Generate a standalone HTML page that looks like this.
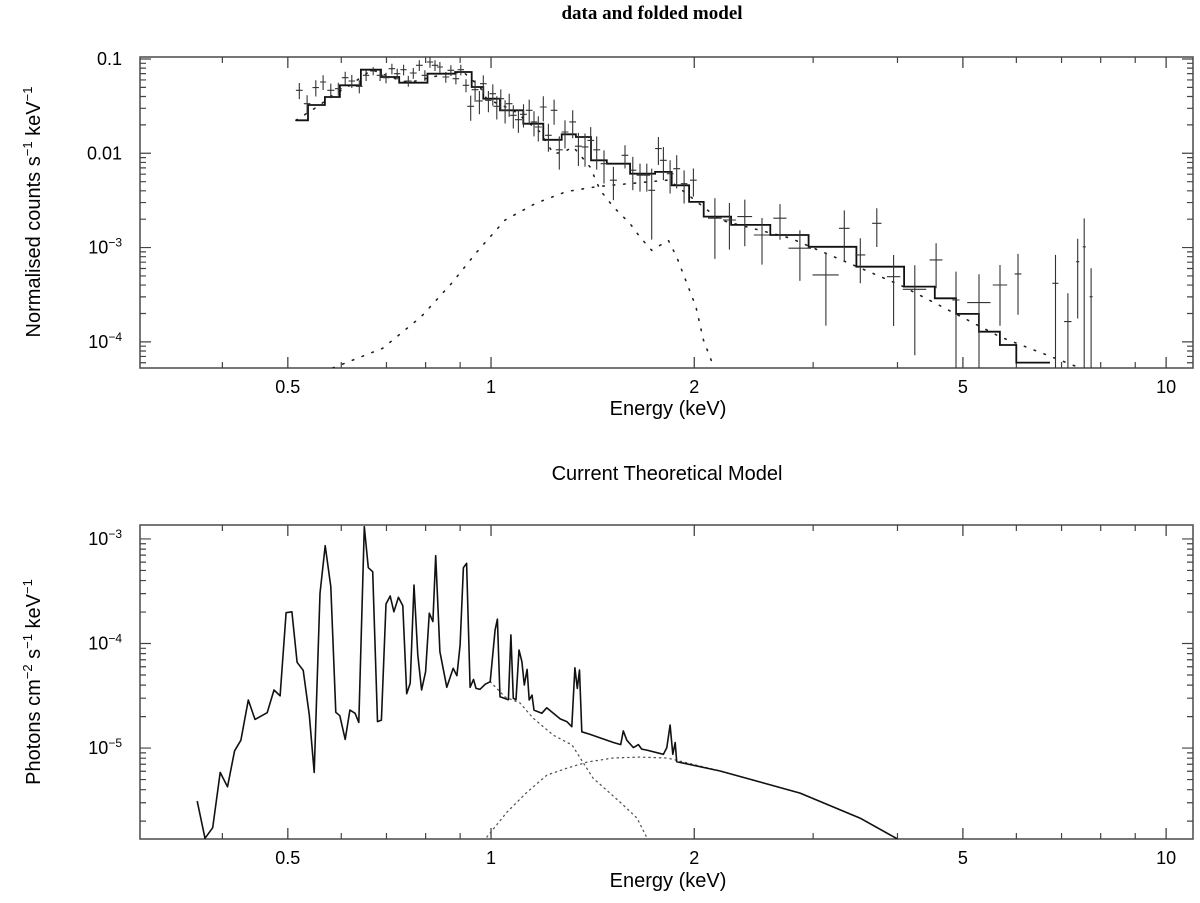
<!DOCTYPE html>
<html><head><meta charset="utf-8"><style>
html,body{margin:0;padding:0;background:#fff;}
svg{display:block;font-family:"Liberation Sans",Arial,sans-serif;}
</style></head><body>
<svg id="chart" width="1200" height="903" viewBox="0 0 1200 903" xmlns="http://www.w3.org/2000/svg">
<rect x="0" y="0" width="1200" height="903" fill="#fff"/>
<text x="652" y="19" text-anchor="middle" font-family="Liberation Serif, serif" font-weight="bold" font-size="19">data and folded model</text>
<text x="668" y="415" text-anchor="middle" font-size="20">Energy (keV)</text>
<text x="667" y="480" text-anchor="middle" font-size="20">Current Theoretical Model</text>
<text x="668" y="887" text-anchor="middle" font-size="20">Energy (keV)</text>
<text transform="translate(40,212) rotate(-90)" text-anchor="middle" font-size="20">Normalised counts s<tspan font-size="13" dy="-8">−1</tspan><tspan dy="8"> keV</tspan><tspan font-size="13" dy="-8">−1</tspan></text>
<text transform="translate(40,682) rotate(-90)" text-anchor="middle" font-size="20">Photons cm<tspan font-size="13" dy="-8">−2</tspan><tspan dy="8"> s</tspan><tspan font-size="13" dy="-8">−1</tspan><tspan dy="8"> keV</tspan><tspan font-size="13" dy="-8">−1</tspan></text>
<g id="top"></g>
<g id="bot"></g>
</svg>
<script>
// ---------- shared x axis ----------
const xDomain = [0.302, 10.96];
const xMajorTicks = [0.5, 1, 2, 5, 10];
const xMajorLabels = ["0.5", "1", "2", "5", "10"];
const xMinorTicks = [0.4, 0.6, 0.7, 0.8, 0.9, 3, 4, 6, 7, 8, 9];

// ---------- top panel data ----------
const topYDomain = [5.28e-5, 0.105];
const topYTicks = [0.1, 0.01, 1e-3, 1e-4];
const topYLabels = ["0.1", "0.01", "10|−3", "10|−4"];
const dataE = [0.520,0.534,0.550,0.564,0.579,0.594,0.608,0.622,0.638,0.653,0.669,0.685,0.699,0.713,0.726,0.742,0.754,0.767,0.783,0.798,0.812,0.826,0.840,0.857,0.872,0.887,0.902,0.918,0.933,0.947,0.961,0.974,0.991,1.006,1.020,1.034,1.049,1.064,1.079,1.098,1.117,1.139,1.158,1.175,1.195,1.216,1.240,1.262,1.287,1.321,1.347,1.378,1.405,1.434,1.470,1.518,1.579,1.622,1.662,1.701,1.730,1.770,1.800,1.842,1.884,1.932,1.994,2.146,2.255,2.376,2.520,2.679,2.868,3.133,3.337,3.524,3.728,3.948,4.243,4.563,4.883,5.283,5.675,6.034,6.856,7.152,7.396,7.563,7.742];
const dataV = [0.0466,0.0336,0.0497,0.0570,0.0466,0.0484,0.0634,0.0585,0.0513,0.0671,0.0746,0.0671,0.0634,0.0789,0.0698,0.0770,0.0585,0.0711,0.0857,0.0671,0.0929,0.0857,0.0823,0.0644,0.0759,0.0618,0.0770,0.0526,0.0315,0.0472,0.0359,0.0547,0.0365,0.0429,0.0315,0.0379,0.0286,0.0336,0.0253,0.0227,0.0259,0.0286,0.0215,0.0190,0.0310,0.0155,0.0286,0.0109,0.0168,0.0215,0.0119,0.0117,0.0137,0.0109,0.00776,0.00518,0.00953,0.00661,0.00585,0.00585,0.00405,0.0112,0.00843,0.00608,0.00687,0.00476,0.00518,0.00205,0.00196,0.00213,0.00136,0.00205,9.84e-4,5.13e-4,0.0016,8.35e-4,0.00181,4.91e-4,3.61e-4,7.40e-4,2.78e-4,2.61e-4,4.01e-4,5.25e-4,4.18e-4,1.64e-4,7.08e-4,0.00102,3.01e-4];
const dataRelErr = [0.195,0.225,0.195,0.178,0.178,0.158,0.158,0.158,0.158,0.13,0.10,0.13,0.13,0.13,0.13,0.13,0.13,0.13,0.13,0.13,0.13,0.13,0.13,0.13,0.13,0.13,0.13,0.158,0.298,0.255,0.276,0.225,0.255,0.255,0.276,0.255,0.276,0.276,0.276,0.276,0.276,0.298,0.298,0.298,0.298,0.33,0.298,0.384,0.33,0.33,0.384,0.384,0.384,0.384,0.384,0.384,0.276,0.384,0.33,0.33,0.70,0.33,0.384,0.384,0.384,0.384,0.33,0.63,0.515,0.515,0.515,0.41,0.55,0.71,0.55,0.50,0.44,0.70,0.80,0.50,1.0,1.0,0.63,0.63,1.0,1.0,0.75,1.0,1.0];
const dataEWidth = [0.006,0.006,0.006,0.006,0.007,0.007,0.007,0.007,0.007,0.007,0.007,0.008,0.008,0.008,0.008,0.008,0.009,0.009,0.009,0.009,0.009,0.009,0.009,0.010,0.010,0.010,0.010,0.010,0.011,0.011,0.011,0.011,0.011,0.011,0.012,0.012,0.012,0.012,0.012,0.013,0.013,0.013,0.013,0.014,0.014,0.014,0.014,0.015,0.015,0.015,0.016,0.016,0.016,0.017,0.017,0.018,0.018,0.019,0.019,0.020,0.020,0.020,0.021,0.021,0.022,0.022,0.023,0.05,0.05,0.06,0.07,0.06,0.11,0.14,0.06,0.06,0.06,0.09,0.17,0.10,0.06,0.21,0.14,0.07,0.07,0.09,0.04,0.04,0.04];
const modelE = [0.514,0.558,0.577,0.618,0.666,0.709,0.754,0.860,0.910,0.963,0.985,1.079,1.155,1.237,1.309,1.363,1.451,1.518,1.701,1.800,1.905,2.027,2.104,2.444,2.750,3.174,3.808,4.395,4.697,5.080,5.487,5.863,6.139,6.73];
const modelV = [0.0224,0.0325,0.0395,0.0526,0.0770,0.0644,0.0561,0.0698,0.0728,0.0505,0.0379,0.0286,0.0206,0.0139,0.0159,0.0149,0.00843,0.00776,0.00608,0.00634,0.00458,0.00305,0.00213,0.00174,0.00136,0.00102,6.27e-4,3.85e-4,2.90e-4,1.98e-4,1.28e-4,9.27e-5,6.02e-5,6.02e-5];
const lineCompE = [0.514,0.558,0.577,0.618,0.666,0.709,0.754,0.860,0.910,0.963,0.985,1.079,1.182,1.237,1.280,1.324,1.402,1.451,1.518,1.607,1.662,1.730,1.831,1.884,2.011,2.063,2.132];
const lineCompV = [0.0224,0.0325,0.0395,0.0526,0.0770,0.0644,0.0561,0.0698,0.0728,0.0505,0.0379,0.0286,0.0168,0.0099,0.0103,0.0117,0.00716,0.00405,0.0027,0.00179,0.00129,9.36e-4,0.00119,7.94e-4,2.36e-4,1.05e-4,5.69e-5];
const contCompE = [0.583,0.691,0.788,0.874,0.958,1.049,1.165,1.293,1.436,1.720,1.835,2.184,2.773,4.036,5.675,7.46];
const contCompV = [5.28e-5,8.55e-5,1.85e-4,4.18e-4,9.43e-4,0.00196,0.00295,0.00392,0.00443,0.0050,0.00521,0.00196,0.00126,4.01e-4,1.13e-4,5.28e-5];

// ---------- bottom panel data ----------
const botYDomain = [1.35e-6, 1.36e-3];
const botYTicks = [1e-3, 1e-4, 1e-5];
const botYLabels = ["10|−3", "10|−4", "10|−5"];
const theoE = [0.367,0.377,0.387,0.397,0.407,0.417,0.426,0.437,0.447,0.466,0.477,0.487,0.497,0.507,0.516,0.527,0.538,0.547,0.558,0.568,0.579,0.589,0.597,0.608,0.618,0.629,0.637,0.649,0.658,0.668,0.679,0.688,0.699,0.709,0.718,0.729,0.740,0.750,0.759,0.769,0.779,0.789,0.800,0.810,0.820,0.828,0.840,0.860,0.879,0.890,0.900,0.910,0.920,0.931,0.942,0.950,0.963,0.980,0.997,1.014,1.022,1.031,1.061,1.070,1.079,1.089,1.100,1.111,1.120,1.131,1.139,1.150,1.158,1.189,1.209,1.230,1.266,1.295,1.317,1.331,1.342,1.352,1.363,1.402,1.518,1.556,1.570,1.589,1.625,1.653,1.672,1.701,1.800,1.821,1.842,1.859,1.874,1.884,2.184,2.87,3.52,4.0];
const theoV = [3.11e-6,1.37e-6,1.73e-6,5.85e-6,4.26e-6,9.42e-6,1.19e-5,2.88e-5,1.88e-5,2.18e-5,3.59e-5,3.16e-5,1.97e-4,2.01e-4,6.61e-5,5.54e-5,2.07e-5,5.85e-6,3.02e-4,8.63e-4,3.50e-4,2.20e-5,2.04e-5,1.21e-5,2.31e-5,2.15e-5,1.76e-5,1.31e-3,5.31e-4,4.86e-4,1.79e-5,1.85e-5,2.39e-4,2.85e-4,2.01e-4,2.77e-4,2.30e-4,3.31e-5,4.16e-5,3.63e-4,7.76e-5,3.59e-5,5.37e-5,1.95e-4,1.62e-4,6.92e-4,8.36e-5,3.81e-5,5.79e-5,4.92e-5,9.68e-5,5.31e-4,5.85e-4,3.81e-5,4.54e-5,3.72e-5,3.65e-5,4.07e-5,4.31e-5,1.35e-4,1.71e-4,3.10e-5,2.90e-5,1.21e-4,2.99e-5,2.90e-5,8.67e-5,6.70e-5,4.01e-5,5.66e-5,2.88e-5,3.21e-5,2.31e-5,2.15e-5,2.43e-5,2.22e-5,1.90e-5,1.79e-5,1.60e-5,5.86e-5,3.72e-5,5.57e-5,1.43e-5,1.35e-5,1.13e-5,1.08e-5,1.46e-5,1.19e-5,1.01e-5,1.08e-5,9.78e-6,9.57e-6,8.71e-6,1.01e-5,1.66e-5,8.71e-6,1.13e-5,7.40e-6,6.03e-6,3.71e-6,2.14e-6,1.35e-6];
const bbE = [0.986,1.056,1.131,1.210,1.296,1.388,1.516,1.662,1.823,2.184,2.87,3.52,4.0];
const bbV = [1.41e-6,2.44e-6,3.79e-6,5.52e-6,6.44e-6,7.35e-6,8.03e-6,8.2e-6,8.03e-6,6.03e-6,3.71e-6,2.14e-6,1.35e-6];
const thermE = [0.997,1.049,1.104,1.154,1.236,1.318,1.416,1.553,1.645,1.702];
const thermV = [4.31e-5,3.08e-5,2.70e-5,1.94e-5,1.33e-5,1.07e-5,5.16e-6,3.04e-6,2.14e-6,1.38e-6];

const NS = "http://www.w3.org/2000/svg";
const X0 = 140, X1 = 1193;
function xs(e){ return X0 + (Math.log10(e)-Math.log10(xDomain[0]))/(Math.log10(xDomain[1])-Math.log10(xDomain[0]))*(X1-X0); }
function mkY(dom, top, bot){ return v => bot - (Math.log10(v)-Math.log10(dom[0]))/(Math.log10(dom[1])-Math.log10(dom[0]))*(bot-top); }
function el(parent, tag, attrs){ const e=document.createElementNS(NS,tag); for(const k in attrs) e.setAttribute(k,attrs[k]); parent.appendChild(e); return e; }

function drawAxes(g, Y0, Y1, yDom, ys, yTicks, yLabels, prefix){
  const fr = el(g,'rect',{x:X0,y:Y0,width:X1-X0,height:Y1-Y0,fill:'none',stroke:'#555','stroke-width':1.6});
  
  
  xMajorTicks.forEach((t,i)=>{
    const x=xs(t);
    const a=el(g,'path',{d:`M${x},${Y1}v-11M${x},${Y0}v11`,stroke:'#444','stroke-width':1.3});
    
    
    const tx=el(g,'text',{x:x,y:Y1+25,'text-anchor':'middle','font-size':18});
    tx.textContent=xMajorLabels[i];
    
    
  });
  xMinorTicks.forEach(t=>{
    const x=xs(t);
    const a=el(g,'path',{d:`M${x},${Y1}v-6M${x},${Y0}v6`,stroke:'#444','stroke-width':1.2});
    
    
  });
  const lo=Math.floor(Math.log10(yDom[0])), hi=Math.ceil(Math.log10(yDom[1]));
  for(let d=lo; d<=hi; d++){
    for(let m=1;m<=9;m++){
      const v=m*Math.pow(10,d);
      if(v<yDom[0]||v>yDom[1]) continue;
      const y=ys(v), len=(m===1)?11:6;
      const a=el(g,'path',{d:`M${X0},${y}h${len}M${X1},${y}h-${len}`,stroke:'#444','stroke-width':1.2});
      
      
    }
  }
  yTicks.forEach((t,i)=>{
    const y=ys(t);
    const tx=el(g,'text',{x:122,y:y+6,'text-anchor':'end','font-size':18});
    const parts=yLabels[i].split('|');
    if(parts.length===1) tx.textContent=parts[0];
    else { tx.textContent=parts[0]; const s=el(tx,'tspan',{'font-size':12,dy:-7}); s.textContent=parts[1]; }
    
    
  });
}
function clip(g,id,Y0,Y1){
  const c=el(g,'clipPath',{id:id}); el(c,'rect',{x:X0,y:Y0,width:X1-X0,height:Y1-Y0});
  const cg=el(g,'g',{'clip-path':`url(#${id})`}); return cg;
}
function line(g, E, V, ys, attrs, name){
  const d=E.map((e,i)=>(i?'L':'M')+xs(e).toFixed(1)+','+ys(V[i]).toFixed(1)).join('');
  const p=el(g,'path',Object.assign({d:d,fill:'none'},attrs));
  
  
}
function stepLine(g, E, V, ys, attrs, name){
  let d='';
  for(let i=0;i<E.length;i++){
    const y=ys(V[i]).toFixed(1);
    const xl = i===0 ? xs(E[0]) : (xs(E[i-1])+xs(E[i]))/2;
    if(i===0) d+=`M${xl.toFixed(1)},${y}`; else d+=`H${xl.toFixed(1)}V${y}`;
  }
  d+=`H${xs(E[E.length-1]).toFixed(1)}`;
  const p=el(g,'path',Object.assign({d:d,fill:'none'},attrs));
  
  
}

// ---------- top panel ----------
(function(){
  const g=document.getElementById('top'); const Y0=57,Y1=368;
  const ys=mkY(topYDomain,Y0,Y1);
  drawAxes(g,Y0,Y1,topYDomain,ys,topYTicks,topYLabels,'top');
  const cg=clip(g,'cTop',Y0,Y1);
  line(cg,contCompE,contCompV,ys,{stroke:'#222','stroke-width':1.6,'stroke-dasharray':'1.5 9','stroke-linecap':'round'},'continuum-component-folded');
  line(cg,lineCompE,lineCompV,ys,{stroke:'#222','stroke-width':1.6,'stroke-dasharray':'1.5 9','stroke-linecap':'round'},'thermal-component-folded');
  stepLine(cg,modelE,modelV,ys,{stroke:'#111','stroke-width':1.8},'folded-model-line');
  dataE.forEach((e,i)=>{
    const v=dataV[i], r=dataRelErr[i];
    const x=xs(e), y=ys(v);
    const yh=ys(v*(1+r)); const lo=v*(1-r); const yl= lo>topYDomain[0]? ys(lo) : Y1+2;
    const xa=xs(e-dataEWidth[i]), xb=xs(e+dataEWidth[i]);
    const p=el(cg,'path',{d:`M${x.toFixed(1)},${yh.toFixed(1)}V${yl.toFixed(1)}M${xa.toFixed(1)},${y.toFixed(1)}H${xb.toFixed(1)}`,stroke:'#333','stroke-width':1.1,fill:'none'});
    
    
  });
})();

// ---------- bottom panel ----------
(function(){
  const g=document.getElementById('bot'); const Y0=525,Y1=839;
  const ys=mkY(botYDomain,Y0,Y1);
  drawAxes(g,Y0,Y1,botYDomain,ys,botYTicks,botYLabels,'bottom');
  const cg=clip(g,'cBot',Y0,Y1);
  line(cg,bbE,bbV,ys,{stroke:'#555','stroke-width':1.3,'stroke-dasharray':'1.3 4','stroke-linecap':'round'},'continuum-component-model');
  line(cg,thermE,thermV,ys,{stroke:'#555','stroke-width':1.3,'stroke-dasharray':'1.3 4','stroke-linecap':'round'},'thermal-component-model');
  line(cg,theoE,theoV,ys,{stroke:'#111','stroke-width':1.6,'stroke-linejoin':'round'},'total-model-line');
})();
</script>
</body></html>
